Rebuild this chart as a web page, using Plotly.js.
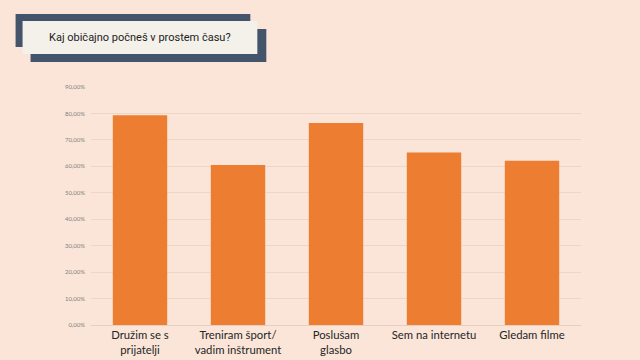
<!DOCTYPE html>
<html><head><meta charset="utf-8">
<script src="https://cdn.plot.ly/plotly-3.0.1.min.js"></script>
<style>html,body{margin:0;padding:0;background:#fae5d8;}#c{width:640px;height:360px;}</style>
</head><body><div id="c"></div>
<script>
const categories = ["Družim se s<br>prijatelji", "Treniram šport/<br>vadim inštrument", "Poslušam<br>glasbo", "Sem na internetu", "Gledam filme"];
const values = [79.3, 60.5, 76.4, 65.2, 62.1];
const yTicks = [0,10,20,30,40,50,60,70,80,90];
const titleText = "Kaj običajno počneš v prostem času?";

const L = 90.5, R = 581, T = 87, B = 324.7;
const W = R - L, H = B - T;
const fx = px => (px - L) / W;
const fy = py => 1 - (py - T) / H;

const layout = {
  width: 640, height: 360,
  paper_bgcolor: '#fae5d8', plot_bgcolor: '#fae5d8',
  margin: {l: L, r: 640 - R, t: T, b: 360 - B, pad: 0},
  separators: ', ',
  showlegend: false,
  bargap: 0.445,
  xaxis: {
    type: 'category', showgrid: false, zeroline: false, showline: false,
    tickfont: {family: 'Lato, Carlito, sans-serif', size: 11.3, color: '#262626', weight: 400},
    ticks: '', ticklabelstandoff: 2
  },
  yaxis: {
    range: [0, 90], tickvals: yTicks, ticktext: yTicks.map(v => v.toFixed(2).replace('.', ',') + '%'),
    showgrid: true, gridcolor: '#ecd6c8', gridwidth: 1, zeroline: true, zerolinecolor: '#e6cfc0',
    tickfont: {family: 'Lato, sans-serif', size: 6, color: '#7f7f7f'},
    ticks: '', showline: false, ticklabelstandoff: 5
  },
  shapes: [
    {type: 'rect', xref: 'paper', yref: 'paper', x0: fx(15), x1: fx(250), y0: fy(14), y1: fy(47), fillcolor: '#44546a', line: {width: 0}, layer: 'above'},
    {type: 'rect', xref: 'paper', yref: 'paper', x0: fx(30), x1: fx(266), y0: fy(29), y1: fy(62), fillcolor: '#44546a', line: {width: 0}, layer: 'above'},
    {type: 'rect', xref: 'paper', yref: 'paper', x0: fx(22), x1: fx(257), y0: fy(21), y1: fy(54), fillcolor: '#f4f0ea', line: {width: 0}, layer: 'above'}
  ],
  annotations: [
    {text: titleText, xref: 'paper', yref: 'paper', x: fx(140), y: fy(38), xanchor: 'center', yanchor: 'middle',
     showarrow: false, font: {family: 'Roboto, sans-serif', size: 11, color: '#222', stretch: 'condensed'}}
  ]
};

Plotly.newPlot('c', [{
  type: 'bar', x: categories, y: values,
  marker: {color: '#ed7d31'}, hoverinfo: 'none'
}], layout, {displayModeBar: false, staticPlot: true});
</script></body></html>
